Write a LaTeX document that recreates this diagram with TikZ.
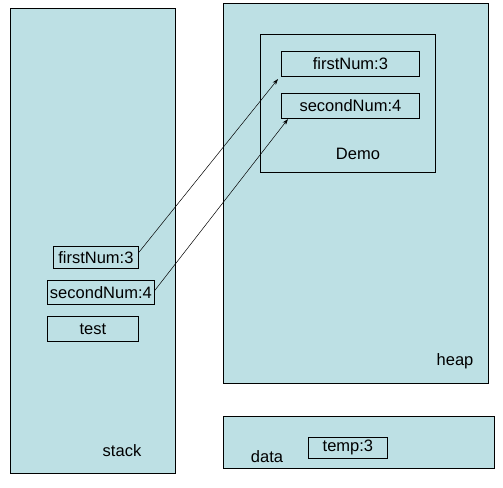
\documentclass[tikz,border=0pt]{standalone}
\usepackage{fontspec}
\setmainfont{Liberation Sans}
\usetikzlibrary{arrows.meta}
\definecolor{mem}{RGB}{189,224,228}
\begin{document}
\begin{tikzpicture}[x=1pt,y=-1pt,
  region/.style={draw=black,fill=mem,line width=0.8pt},
  cell/.style={draw=black,line width=0.8pt},
  lbl/.style={font=\fontsize{16.5}{18}\selectfont,inner sep=0pt},
  ptr/.style={-{Stealth[length=6pt,width=4pt]},line width=0.5pt}]
\useasboundingbox (0,0) rectangle (503,487);
\fill[white] (0,0) rectangle (503,487);
% regions
\draw[region] (10,8) rectangle (175,473);
\draw[region] (223,3) rectangle (488,383);
\draw[region] (223,416) rectangle (494,468);
\draw[cell] (260,34) rectangle (435,172);
% heap cells
\node[cell,minimum width=138pt,minimum height=25pt,inner sep=0pt,anchor=north west] (hf) at (281,51) {};
\node[lbl] at (hf.center) {firstNum:3};
\node[cell,minimum width=138pt,minimum height=25pt,inner sep=0pt,anchor=north west] (hs) at (281,93) {};
\node[lbl] at (hs.center) {secondNum:4};
\node[lbl] (demo) at (358,154) {Demo};
\node[lbl] (heap) at (455,361) {heap};
% stack cells
\node[cell,minimum width=85pt,minimum height=22pt,inner sep=0pt,anchor=north west] (sf) at (53,246) {};
\node[lbl] at (sf.center) {firstNum:3};
\node[cell,minimum width=107pt,minimum height=24pt,inner sep=0pt,anchor=north west] (ss) at (47,280) {};
\node[lbl] at (ss.center) {secondNum:4};
\node[cell,minimum width=91pt,minimum height=25pt,inner sep=0pt,anchor=north west] (st) at (47,316) {};
\node[lbl] at (st.center) {test};
\node[lbl] (stack) at (122,451) {stack};
% data
\node[cell,minimum width=79pt,minimum height=21pt,inner sep=0pt,anchor=north west] (tp) at (308,437) {};
\node[lbl] at (tp.center) {temp:3};
\node[lbl] (data) at (267,457) {data};
% pointers
\coordinate (hft) at (278,79);
\coordinate (hst) at (288,119);
\draw[ptr] (sf.east) ++(0,-5) -- (hft);
\draw[ptr] (ss.east) ++(0,-2) -- (hst);
\end{tikzpicture}
\end{document}
